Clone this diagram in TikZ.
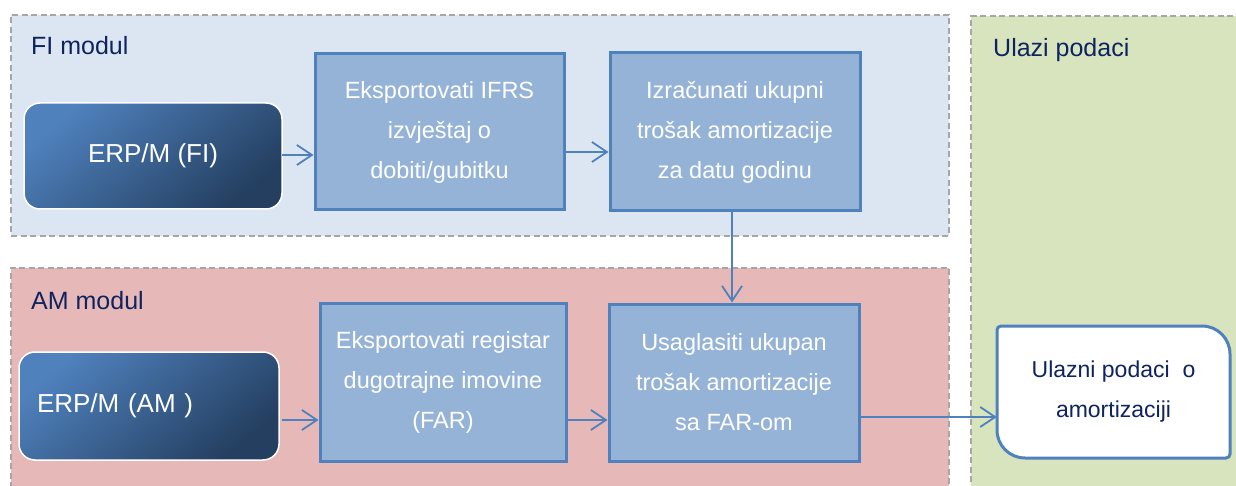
\documentclass[tikz,border=0pt]{standalone}
\usepackage{fontspec}
\setmainfont{Liberation Sans}
\usetikzlibrary{arrows.meta}
\definecolor{fipanel}{HTML}{DCE6F2}
\definecolor{ampanel}{HTML}{E6B9B8}
\definecolor{grpanel}{HTML}{D7E4BD}
\definecolor{panelline}{HTML}{A6A6A6}
\definecolor{boxfill}{HTML}{95B3D7}
\definecolor{boxline}{HTML}{4F81BD}
\definecolor{erplight}{HTML}{4F81BD}
\definecolor{erpdark}{HTML}{243F60}
\definecolor{navy}{HTML}{0E2360}
\tikzset{
  panel/.style={draw=panelline, dash pattern=on 6pt off 3.5pt, line width=1.5pt, inner sep=0pt},
  title/.style={anchor=base west, text=navy, font=\fontsize{25}{30}\selectfont, inner sep=0pt},
  stepbox/.style={draw=boxline, fill=boxfill, line width=3pt, align=center, text=white,
    font=\fontsize{23.5}{40}\selectfont, inner sep=0pt},
  erpbox/.style={draw=white, line width=1.5pt, rounded corners=16pt, top color=erplight,
    bottom color=erpdark, shading angle=40, text=white, font=\fontsize{26}{32}\selectfont, inner sep=0pt},
  conn/.style={draw=boxline, line width=1.8pt, -{Straight Barb[length=15pt,width=20pt,line width=1.8pt]}},
}
\begin{document}
\begin{tikzpicture}[x=1pt,y=-1pt]
\useasboundingbox (0,0) rectangle (1236,486);
% panels
\node[panel, fill=fipanel, minimum width=938, minimum height=221] (fip) at (480,125.5) {};
\node[panel, fill=ampanel, minimum width=938, minimum height=228] (amp) at (480,382) {};
\node[panel, fill=grpanel, minimum width=290, minimum height=480] (grp) at (1116,256) {};
\node[title] (fit) at (31,55) {FI modul};
\node[title] (amt) at (31,309) {AM modul};
\node[title] (grt) at (993,57) {Ulazi podaci};
% ERP boxes
\node[erpbox, minimum width=258, minimum height=106] (erpfi) at (153,156) {ERP/M (FI)};
\node[erpbox, minimum width=260, minimum height=108, text width=224, align=left, inner xsep=18pt] (erpam) at (149,406) {ERP/M (AM )\\[12pt]};
% step boxes
\node[stepbox, minimum width=249, minimum height=156] (b1) at (439.5,132) {Eksportovati IFRS\\izvještaj o\\dobiti/gubitku};
\node[stepbox, minimum width=250, minimum height=158] (b2) at (735,132) {Izračunati ukupni\\trošak amortizacije\\za datu godinu};
\node[stepbox, minimum width=246, minimum height=158] (b3) at (443,382) {Eksportovati registar\\dugotrajne imovine\\(FAR)};
\node[stepbox, minimum width=250, minimum height=157] (b4) at (734,382.5) {Usaglasiti ukupan\\trošak amortizacije\\sa FAR-om};
% output box
\node[text=navy, align=center, font=\fontsize{23}{40}\selectfont, minimum width=233, minimum height=132, inner sep=0pt] (out) at (1113.5,392) {Ulazni podaci~ o\\amortizaciji};
\draw[draw=boxline, line width=3pt, fill=white]
  (997,330) .. controls (997,327.8) and (998.8,326) .. (1001,326)
  -- (1202,326) .. controls (1217.5,326) and (1230,338.5) .. (1230,354)
  -- (1230,454) .. controls (1230,456.2) and (1228.2,458) .. (1226,458)
  -- (1025,458) .. controls (1009.5,458) and (997,445.5) .. (997,430) -- cycle;
\node[text=navy, align=center, font=\fontsize{23}{40}\selectfont, inner sep=0pt] at (out.center) {Ulazni podaci~ o\\amortizaciji};
% connectors
\coordinate (c1) at (282,155);
\coordinate (c2) at (565,152);
\coordinate (c3) at (282,420);
\coordinate (c4) at (567,420);
\coordinate (c5) at (860,417);
\draw[conn] (c1) -- (c1 -| b1.west);
\draw[conn] (c2) -- (c2 -| b2.west);
\draw[conn] (b2.south -| 732,0) -- (b4.north -| 732,0);
\draw[conn] (c3) -- (c3 -| b3.west);
\draw[conn] (c4) -- (c4 -| b4.west);
\draw[conn] (c5) -- (c5 -| out.west);
\end{tikzpicture}
\end{document}
